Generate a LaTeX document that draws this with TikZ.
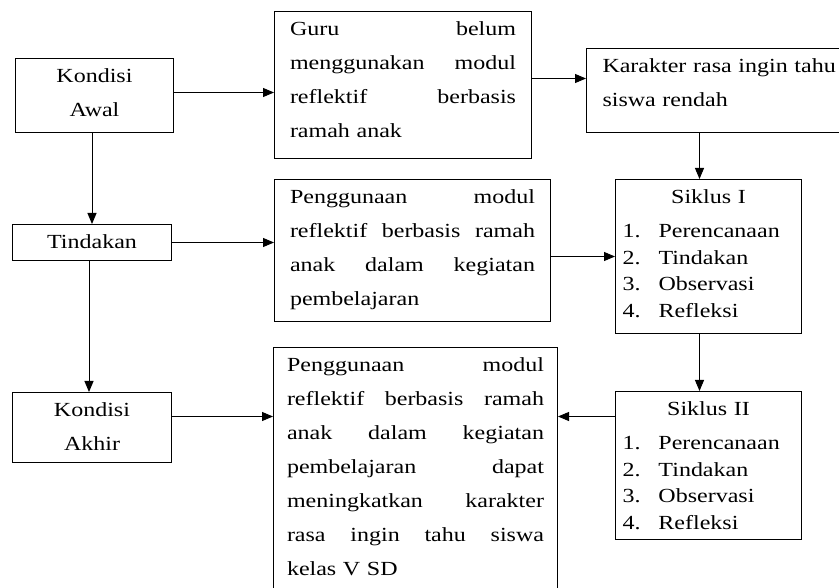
\documentclass[tikz,border=0pt]{standalone}
\usepackage{fontspec}
\setmainfont{Liberation Serif}[FakeStretch=1.2]
\usetikzlibrary{arrows.meta}

\tikzset{every picture/.style={line width=1pt}}
\tikzset{
  kotak/.style={draw, anchor=north west, inner sep=0pt, text height=24.5pt, align=left},
  siklus/.style={kotak, minimum width=186, text width=172, font=\fontsize{20}{26.5}\selectfont},
  panah/.style={-{Triangle[length=11pt,width=9pt]}},
}
\newcommand{\rata}[1]{{\spaceskip=0pt\xspaceskip=0pt\makebox[\linewidth][s]{#1}}}
\newcommand{\butir}[2]{\makebox[36pt][l]{#1}#2}

\begin{document}
\begin{tikzpicture}[x=1pt,y=1pt,yscale=-1,xscale=1,font=\fontsize{20}{34}\selectfont]
\useasboundingbox (0,0) rectangle (839,588);

%Shape: Rectangle [Kondisi Awal]
\node (awal) [kotak, minimum width=158, text width=140, text depth=49.5, align=center] at (15,58) {Kondisi\\Awal};
%Shape: Rectangle [Tindakan]
\node (tindakan) [kotak, minimum width=159, text width=140, text depth=11.5, align=center] at (12,224) {Tindakan};
%Shape: Rectangle [Kondisi Akhir]
\node (akhir) [kotak, minimum width=159, text width=140, text depth=45.5, align=center] at (12,392) {Kondisi\\Akhir};

%Shape: Rectangle [masalah guru]
\node (guru) [kotak, minimum width=257, text width=226, text depth=122.5] at (274,11)
  {\rata{Guru belum}\\\rata{menggunakan modul}\\\rata{reflektif berbasis}\\ramah anak};
%Shape: Rectangle [karakter siswa]
\node (karakter) [kotak, minimum width=272, text width=240, text depth=59.5] at (586,48)
  {Karakter rasa ingin tahu\\siswa rendah};
%Shape: Rectangle [penggunaan modul]
\node (pakai) [kotak, minimum width=276, text width=245, text depth=117.5] at (274,179)
  {\rata{Penggunaan modul}\\\rata{reflektif berbasis ramah}\\\rata{anak dalam kegiatan}\\pembelajaran};
%Shape: Rectangle [hasil akhir]
\node (hasil) [kotak, minimum width=284, text width=257, text depth=228.5] at (273,347)
  {\rata{Penggunaan modul}\\\rata{reflektif berbasis ramah}\\\rata{anak dalam kegiatan}\\\rata{pembelajaran dapat}\\\rata{meningkatkan karakter}\\\rata{rasa ingin tahu siswa}\\kelas V SD};

%Shape: Rectangle [Siklus I]
\node (siklus1) [siklus, text depth=129.5] at (615,179)
  {\makebox[\linewidth]{Siklus I}\\[7.5pt]\butir{1.}{Perencanaan}\\\butir{2.}{Tindakan}\\\butir{3.}{Observasi}\\\butir{4.}{Refleksi}};
%Shape: Rectangle [Siklus II]
\node (siklus2) [siklus, text depth=123.5] at (615,391)
  {\makebox[\linewidth]{Siklus II}\\[7.5pt]\butir{1.}{Perencanaan}\\\butir{2.}{Tindakan}\\\butir{3.}{Observasi}\\\butir{4.}{Refleksi}};

% helper points
\coordinate (g1) at ([yshift=-12pt]karakter.west);
\coordinate (k1) at ([xshift=-9pt]siklus1.north);
\coordinate (k2) at ([xshift=-9pt]siklus2.north);
\coordinate (t1) at ([xshift=-3pt]akhir.north);
\coordinate (a1) at ([yshift=-11pt]akhir.east);
\coordinate (w1) at ([yshift=-3pt]awal.east);

%Straight Lines
\draw [panah] (w1) -- (w1 -| guru.west);
\draw [panah] (g1 -| guru.east) -- (g1);
\draw [panah] (k1 |- karakter.south) -- (k1);
\draw [panah] (k2 |- siklus1.south) -- (k2);
\draw [panah] (tindakan.north |- awal.south) -- (tindakan.north);
\draw [panah] (t1 |- tindakan.south) -- (t1);
\draw [panah] (tindakan.east) -- (tindakan.east -| pakai.west);
\draw [panah] (siklus1.west -| pakai.east) -- (siklus1.west);
\draw [panah] (a1) -- (a1 -| hasil.west);
\draw [panah] (a1 -| siklus2.west) -- (a1 -| hasil.east);

\end{tikzpicture}
\end{document}
